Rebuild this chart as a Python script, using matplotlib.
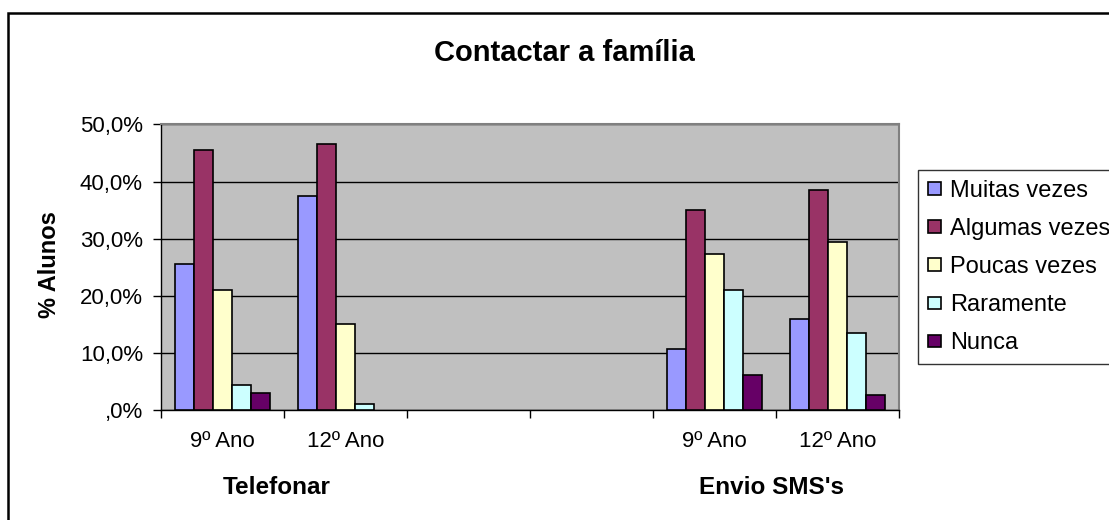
import matplotlib
matplotlib.use("Agg")
import matplotlib.pyplot as plt
from matplotlib.patches import Rectangle
from matplotlib.ticker import FixedLocator, NullFormatter
import numpy as np

plt.rcParams['font.family'] = ['Liberation Sans', 'DejaVu Sans']

title = "Contactar a família"
ylabel = "% Alunos"
slot_labels = ["9º Ano", "12º Ano", "", "", "9º Ano", "12º Ano"]
group_labels = ["Telefonar", "Envio SMS's"]
data_slots = [0, 1, 4, 5]
series = ["Muitas vezes", "Algumas vezes", "Poucas vezes", "Raramente", "Nunca"]
muitas = [25.6, 37.5, 10.6, 16.0]
algumas = [45.5, 46.5, 35.0, 38.5]
poucas = [21.1, 15.1, 27.3, 29.5]
raramente = [4.4, 1.0, 21.1, 13.5]
nunca = [2.9, 0.0, 6.1, 2.6]
values = [muitas, algumas, poucas, raramente, nunca]
colors = ["#9999FF", "#993366", "#FFFFCC", "#CCFFFF", "#660066"]
yticks = [0, 10, 20, 30, 40, 50]
ytick_labels = [",0%", "10,0%", "20,0%", "30,0%", "40,0%", "50,0%"]

W, H = 1109, 520
fig = plt.figure(figsize=(W / 100, H / 100), dpi=100)
fig.patch.set_facecolor("white")

ax = fig.add_axes([161 / W, 1 - 410 / H, 738 / W, 285.5 / H])
ax.set_facecolor("#C0C0C0")

bw = 0.156
x = np.array(data_slots, dtype=float)
handles = []
for i, (name, vals, col) in enumerate(zip(series, values, colors)):
    v = np.array(vals, dtype=float)
    v = np.where(v > 0, v, np.nan)  # zero values draw no bar
    b = ax.bar(x + (i - 2) * bw, v, width=bw, color=col, edgecolor="black",
               linewidth=1.2, label=name, zorder=3)
    handles.append(b)

ax.set_xlim(-0.5, len(slot_labels) - 0.5)
ax.set_ylim(0, 50)
ax.set_yticks(yticks)
ax.set_yticklabels(ytick_labels, fontsize=16)
ax.yaxis.grid(True, color="black", linewidth=1.0, zorder=1)
ax.set_axisbelow(True)

# slot boundaries as major ticks, labels as minor
ax.xaxis.set_major_locator(FixedLocator(np.arange(-0.5, len(slot_labels), 1.0)))
ax.xaxis.set_major_formatter(NullFormatter())
ax.xaxis.set_minor_locator(FixedLocator(np.arange(len(slot_labels))))
ax.set_xticklabels(slot_labels, minor=True, fontsize=16)
ax.tick_params(axis="x", which="minor", length=0, pad=15)
ax.tick_params(axis="x", which="major", length=6, width=1, direction="out")
ax.tick_params(axis="y", length=6, width=1, direction="out", pad=7)

for s in ["left", "bottom"]:
    ax.spines[s].set_color("black")
    ax.spines[s].set_linewidth(1.0)
for s in ["top", "right"]:
    ax.spines[s].set_color("#808080")
    ax.spines[s].set_linewidth(1.5)

# group labels
trans = ax.get_xaxis_transform()
ax.text(0.44, -0.27, group_labels[0], transform=trans, ha="center", va="center",
        fontsize=17.5, fontweight="bold")
ax.text(4.46, -0.27, group_labels[1], transform=trans, ha="center", va="center",
        fontsize=17.5, fontweight="bold")

fig.text(49 / W, 1 - 265 / H, ylabel, rotation=90, ha="center", va="center",
         fontsize=17, fontweight="bold")
fig.text(564 / W, 1 - 53 / H, title, ha="center", va="center",
         fontsize=21, fontweight="bold")

leg = fig.legend(handles=handles, labels=series, loc="upper left",
                 bbox_to_anchor=(918 / W, 1 - 170 / H), fontsize=17,
                 frameon=True, fancybox=False, edgecolor="black",
                 handlelength=0.55, handleheight=0.42, handletextpad=0.38,
                 labelspacing=0.68, borderpad=0.42, borderaxespad=0)
leg.get_frame().set_linewidth(1.0)

# outer chart border (extends beyond right/bottom edges)
fig.patches.append(Rectangle((8 / W, -0.5), 2.0, 1.5 - 13 / H, transform=fig.transFigure,
                             fill=False, edgecolor="black", linewidth=1.8))

fig.savefig("out.png", dpi=100)
